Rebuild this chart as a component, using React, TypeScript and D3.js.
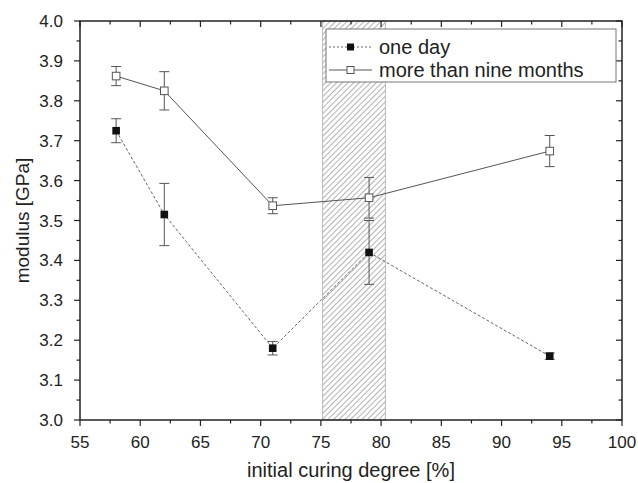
import React, { useEffect, useRef } from "react"
import * as d3 from "d3"

const degrees = [58, 62, 71, 79, 94]
const oneDay = [3.725, 3.515, 3.18, 3.42, 3.16]
const oneDayErr = [0.03, 0.078, 0.017, 0.08, 0.008]
const nineMonths = [3.862, 3.825, 3.537, 3.557, 3.674]
const nineMonthsErr = [0.024, 0.048, 0.02, 0.051, 0.039]
const xTicks = [55, 60, 65, 70, 75, 80, 85, 90, 95, 100]
const yTicks = [3.0, 3.1, 3.2, 3.3, 3.4, 3.5, 3.6, 3.7, 3.8, 3.9, 4.0]
const hatchRange = [75.15, 80.35]
const legendLabels = ["one day", "more than nine months"]

const W = 638
const H = 483

const App = () => {
	const ref = useRef<SVGSVGElement>(null)

	useEffect(() => {
		const svg = d3.select(ref.current)
		svg.selectAll("*").remove()

		const left = 80
		const right = 622
		const top = 21
		const bottom = 420
		const font = "Liberation Sans, Arial, sans-serif"
		const axisColor = "#222"

		const x = d3.scaleLinear().domain([55, 100]).range([left, right])
		const y = d3.scaleLinear().domain([3.0, 4.0]).range([bottom, top])

		// hatch pattern
		const defs = svg.append("defs")
		defs
			.append("pattern")
			.attr("id", "hatch")
			.attr("patternUnits", "userSpaceOnUse")
			.attr("width", 4)
			.attr("height", 4)
			.attr("patternTransform", "rotate(45)")
			.append("line")
			.attr("x1", 0)
			.attr("y1", 0)
			.attr("x2", 0)
			.attr("y2", 4)
			.attr("stroke", "#666")
			.attr("stroke-width", 1)

		svg
			.append("rect")
			.attr("x", x(hatchRange[0]))
			.attr("y", top)
			.attr("width", x(hatchRange[1]) - x(hatchRange[0]))
			.attr("height", bottom - top)
			.attr("fill", "url(#hatch)")
			.attr("stroke", "#aaa")
			.attr("stroke-width", 0.8)

		// frame
		svg
			.append("rect")
			.attr("x", left)
			.attr("y", top)
			.attr("width", right - left)
			.attr("height", bottom - top)
			.attr("fill", "none")
			.attr("stroke", axisColor)
			.attr("stroke-width", 1.5)

		// ticks
		const xMinor = d3.range(57.5, 100, 5)
		const yMinor = d3.range(3.05, 4.0, 0.1)
		const tickG = svg.append("g").attr("stroke", axisColor).attr("stroke-width", 1.2)
		xTicks.forEach(t => {
			tickG.append("line").attr("x1", x(t)).attr("x2", x(t)).attr("y1", bottom).attr("y2", bottom + 6)
			tickG.append("line").attr("x1", x(t)).attr("x2", x(t)).attr("y1", top).attr("y2", top + 6)
		})
		xMinor.forEach(t => {
			tickG.append("line").attr("x1", x(t)).attr("x2", x(t)).attr("y1", bottom).attr("y2", bottom + 3.5)
			tickG.append("line").attr("x1", x(t)).attr("x2", x(t)).attr("y1", top).attr("y2", top + 3.5)
		})
		yTicks.forEach(t => {
			tickG.append("line").attr("x1", left - 6).attr("x2", left).attr("y1", y(t)).attr("y2", y(t))
			tickG.append("line").attr("x1", right - 6).attr("x2", right).attr("y1", y(t)).attr("y2", y(t))
		})
		yMinor.forEach(t => {
			tickG.append("line").attr("x1", left - 3.5).attr("x2", left).attr("y1", y(t)).attr("y2", y(t))
			tickG.append("line").attr("x1", right - 3.5).attr("x2", right).attr("y1", y(t)).attr("y2", y(t))
		})

		// tick labels
		svg
			.append("g")
			.selectAll("text")
			.data(xTicks)
			.enter()
			.append("text")
			.attr("x", d => x(d))
			.attr("y", bottom + 28)
			.attr("text-anchor", "middle")
			.style("font-family", font)
			.style("font-size", "17px")
			.style("fill", "#222")
			.text(d => d)

		svg
			.append("g")
			.selectAll("text")
			.data(yTicks)
			.enter()
			.append("text")
			.attr("x", left - 17)
			.attr("y", d => y(d) + 6)
			.attr("text-anchor", "end")
			.style("font-family", font)
			.style("font-size", "17px")
			.style("fill", "#222")
			.text(d => d.toFixed(1))

		// axis titles
		svg
			.append("text")
			.attr("x", 351)
			.attr("y", 477)
			.attr("text-anchor", "middle")
			.style("font-family", font)
			.style("font-size", "20px")
			.style("fill", "#222")
			.text("initial curing degree [%]")

		svg
			.append("text")
			.attr("transform", `translate(29, ${(top + bottom) / 2}) rotate(-90)`)
			.attr("text-anchor", "middle")
			.style("font-family", font)
			.style("font-size", "19px")
			.style("fill", "#222")
			.text("modulus [GPa]")

		const line = d3
			.line<number>()
			.x((_, i) => x(degrees[i]))
			.y(d => y(d))

		// series lines
		svg
			.append("path")
			.datum(oneDay)
			.attr("d", line)
			.attr("fill", "none")
			.attr("stroke", "#666")
			.attr("stroke-width", 1)
			.attr("stroke-dasharray", "3,2")

		svg
			.append("path")
			.datum(nineMonths)
			.attr("d", line)
			.attr("fill", "none")
			.attr("stroke", "#555")
			.attr("stroke-width", 1)

		// error bars
		const drawErr = (vals: number[], errs: number[]) => {
			const g = svg.append("g").attr("stroke", "#555").attr("stroke-width", 1)
			vals.forEach((v, i) => {
				const cx = x(degrees[i])
				g.append("line").attr("x1", cx).attr("x2", cx).attr("y1", y(v - errs[i])).attr("y2", y(v + errs[i]))
				g.append("line").attr("x1", cx - 5).attr("x2", cx + 5).attr("y1", y(v - errs[i])).attr("y2", y(v - errs[i]))
				g.append("line").attr("x1", cx - 5).attr("x2", cx + 5).attr("y1", y(v + errs[i])).attr("y2", y(v + errs[i]))
			})
		}
		drawErr(oneDay, oneDayErr)
		drawErr(nineMonths, nineMonthsErr)

		// markers
		svg
			.append("g")
			.selectAll("rect")
			.data(oneDay)
			.enter()
			.append("rect")
			.attr("x", (_, i) => x(degrees[i]) - 3.8)
			.attr("y", d => y(d) - 3.8)
			.attr("width", 7.6)
			.attr("height", 7.6)
			.attr("fill", "#111")

		svg
			.append("g")
			.selectAll("rect")
			.data(nineMonths)
			.enter()
			.append("rect")
			.attr("x", (_, i) => x(degrees[i]) - 3.8)
			.attr("y", d => y(d) - 3.8)
			.attr("width", 7.6)
			.attr("height", 7.6)
			.attr("fill", "#fff")
			.attr("stroke", "#555")
			.attr("stroke-width", 1)

		// legend
		const lg = svg.append("g")
		lg.append("rect")
			.attr("x", 326)
			.attr("y", 29)
			.attr("width", 290)
			.attr("height", 53)
			.attr("fill", "#fff")
			.attr("stroke", "#777")
			.attr("stroke-width", 1)

		const rows = [47, 70]
		rows.forEach((ry, i) => {
			lg.append("line")
				.attr("x1", 329)
				.attr("x2", 372)
				.attr("y1", ry)
				.attr("y2", ry)
				.attr("stroke", i === 0 ? "#666" : "#555")
				.attr("stroke-width", 1)
				.attr("stroke-dasharray", i === 0 ? "2,2" : null)
			lg.append("rect")
				.attr("x", 350.5 - 3.5)
				.attr("y", ry - 3.5)
				.attr("width", 7)
				.attr("height", 7)
				.attr("fill", i === 0 ? "#111" : "#fff")
				.attr("stroke", i === 0 ? "none" : "#555")
			lg.append("text")
				.attr("x", 379)
				.attr("y", ry + 7)
				.style("font-family", font)
				.style("font-size", "20px")
				.style("fill", "#222")
				.text(legendLabels[i])
		})
	}, [])

	return (
		<svg
			ref={ref}
			width={W}
			height={H}
			style={{ position: "absolute", left: 0, top: 0, background: "#fff" }}
		></svg>
	)
}

export default App
